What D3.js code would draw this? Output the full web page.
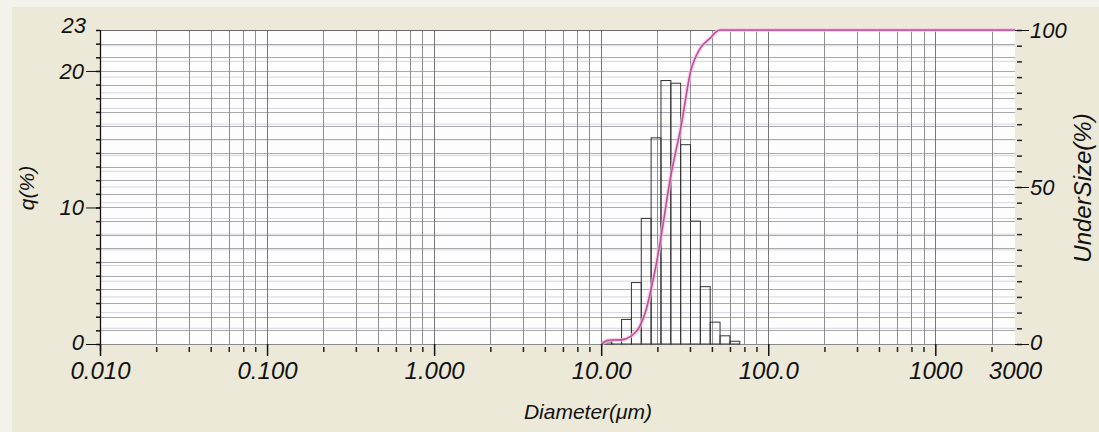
<!DOCTYPE html>
<html>
<head>
<meta charset="utf-8">
<script src="https://cdn.jsdelivr.net/npm/d3@7"></script>
<style>
  html, body { margin: 0; padding: 0; background: #ece9d8; }
  svg text { font-family: "Liberation Sans", Arial, sans-serif; font-style: italic; fill: #111; }
</style>
</head>
<body>
<svg id="chart" width="1099" height="432"></svg>
<script>
// ---- data ----
const xTickValues = [0.01, 0.1, 1, 10, 100, 1000, 3000];
const xTickLabels = ["0.010", "0.100", "1.000", "10.00", "100.0", "1000", "3000"];
const gridMantissas = [1, 2.17, 3.4, 4.6, 5.9, 7.2, 8.5];
const decades = [0.01, 0.1, 1, 10, 100, 1000];

const qMajorTicks = [0, 10, 20, 23];
const underMajorTicks = [0, 50, 100];

// histogram channels (µm) and frequency q(%)
const binLower = [10.097, 11.565, 13.246, 15.172, 17.377, 19.904, 22.797, 26.111, 29.907, 34.255, 39.234, 44.938, 51.471, 58.953];
const binUpper = [11.565, 13.246, 15.172, 17.377, 19.904, 22.797, 26.111, 29.907, 34.255, 39.234, 44.938, 51.471, 58.953, 67.523];
const qValues  = [0.15, 0.3, 1.8, 4.5, 9.2, 15.1, 19.3, 19.1, 14.6, 9.0, 4.2, 1.6, 0.6, 0.2];

// cumulative undersize curve
const cumDiam   = [10.1, 11.0, 13.2, 15.0, 17.0, 18.6, 20.0, 21.3, 22.8, 26.1, 28.0, 29.9, 34.3, 39.2, 44.9, 49.0, 51.5, 3000];
const cumValues = [0, 1.2, 1.3, 2.4, 5.5, 11, 18, 25, 34, 53.5, 61.5, 68.6, 86.8, 94.2, 97.4, 99.5, 100, 100];

// ---- layout ----
const L = 100, R = 1015, T = 30, B = 344;
const svg = d3.select("#chart");

const x = d3.scaleLog().domain([0.01, 3000]).range([L, R]);
const yq = d3.scaleLinear().domain([0, 23]).range([B, T]);
const yu = d3.scaleLinear().domain([0, 100]).range([B, T]);

// background
svg.append("rect").attr("x", 0).attr("y", 0).attr("width", 1099).attr("height", 432).attr("fill", "#f4f2ea");
svg.append("rect").attr("x", 12).attr("y", 7).attr("width", 1087).attr("height", 425).attr("fill", "#ece9d8");
svg.append("rect").attr("x", L).attr("y", T).attr("width", R - L).attr("height", B - T).attr("fill", "#fdfdfe");

const grid = svg.append("g");
// horizontal gridlines: undersize every 5%
grid.selectAll("line.gu").data(d3.range(5, 100, 5)).join("line")
  .attr("x1", L).attr("x2", R).attr("y1", d => yu(d)).attr("y2", d => yu(d))
  .attr("stroke", "#d6d6de").attr("stroke-width", 1);
// horizontal gridlines: q every 1%
grid.selectAll("line.gq").data(d3.range(1, 23)).join("line")
  .attr("x1", L).attr("x2", R).attr("y1", d => Math.round(yq(d)) + 0.5).attr("y2", d => Math.round(yq(d)) + 0.5)
  .attr("stroke", "#a8a8ad").attr("stroke-width", 1);

// vertical gridlines
const vGrid = [];
decades.forEach(d => gridMantissas.forEach(m => { const v = d * m; if (v > 0.01 && v < 3000) vGrid.push(v); }));
grid.selectAll("line.gv").data(vGrid).join("line")
  .attr("x1", d => Math.round(x(d)) + 0.5).attr("x2", d => Math.round(x(d)) + 0.5)
  .attr("y1", T).attr("y2", B)
  .attr("stroke", d => decades.includes(d) ? "#777" : "#8e8e8e").attr("stroke-width", 1);

// bottom and top border
svg.append("line").attr("x1", L).attr("x2", R).attr("y1", B + 0.5).attr("y2", B + 0.5).attr("stroke", "#8a8a8a");
svg.append("line").attr("x1", L).attr("x2", R).attr("y1", T + 0.5).attr("y2", T + 0.5).attr("stroke", "#6a6a6a");

// histogram bars
const bars = binLower.map((lo, i) => ({ lo, hi: binUpper[i], q: qValues[i] }));
svg.append("g").selectAll("rect").data(bars).join("rect")
  .attr("x", d => x(d.lo)).attr("width", d => x(d.hi) - x(d.lo))
  .attr("y", d => yq(d.q)).attr("height", d => B - yq(d.q))
  .attr("fill", "none").attr("stroke", "#333").attr("stroke-width", 1);

// cumulative curve
const cum = cumDiam.map((d, i) => ({ d, v: cumValues[i] }));
const line = d3.line().x(d => x(d.d)).y(d => yu(d.v)).curve(d3.curveMonotoneX);
svg.append("path").datum(cum).attr("d", line)
  .attr("fill", "none").attr("stroke", "#f2c4de").attr("stroke-width", 4).attr("opacity", 0.7);
svg.append("path").datum(cum).attr("d", line)
  .attr("fill", "none").attr("stroke", "#c24d9c").attr("stroke-width", 1.6);

// left axis
const leftAxis = d3.axisLeft(yq).tickValues(d3.range(0, 24)).tickSize(4).tickFormat("");
const gl = svg.append("g").attr("transform", `translate(${L},0)`).call(leftAxis);
gl.select(".domain").remove();
gl.selectAll(".tick line").attr("stroke", "#111").attr("stroke-width", 1.5);
svg.append("line").attr("x1", L + 0.5).attr("x2", L + 0.5).attr("y1", T).attr("y2", B + 7).attr("stroke", "#111").attr("stroke-width", 1.3);
const leftMajor = d3.axisLeft(yq).tickValues(qMajorTicks).tickSize(14).tickPadding(2).tickFormat(d3.format("d"));
const glm = svg.append("g").attr("transform", `translate(${L},0)`).call(leftMajor);
glm.select(".domain").remove();
glm.selectAll(".tick line").attr("stroke", "#111").attr("stroke-width", d => d === 23 ? 0 : 1);
glm.selectAll(".tick text").attr("font-size", 22).style("font-family", null).attr("fill", "#111");
glm.selectAll(".tick").filter(d => d === 23).select("text").attr("x", -14).attr("dy", "0.1em");
glm.selectAll(".tick").filter(d => d === 0).select("text").attr("dy", "0.25em");

// right axis
const rightAxis = d3.axisRight(yu).tickValues(d3.range(0, 101, 5)).tickSize(5).tickFormat("");
const gr = svg.append("g").attr("transform", `translate(${R + 2},0)`).call(rightAxis);
gr.select(".domain").remove();
gr.selectAll(".tick line").attr("stroke", "#222").attr("stroke-width", 1.5);
const rightMajor = d3.axisRight(yu).tickValues(underMajorTicks).tickSize(14).tickPadding(1).tickFormat(d3.format("d"));
const grm = svg.append("g").attr("transform", `translate(${R},0)`).call(rightMajor);
grm.select(".domain").remove();
grm.selectAll(".tick line").attr("stroke", "#111").attr("stroke-width", 1);
grm.selectAll(".tick text").attr("font-size", 22).style("font-family", null).attr("fill", "#111");
grm.selectAll(".tick").filter(d => d === 0).select("text").attr("dy", "0.25em");

// bottom axis: minor ticks at grid positions, major at decades
const bottomMinor = d3.axisBottom(x).tickValues(vGrid.filter(v => !decades.includes(v))).tickSize(5).tickFormat("");
const gbm = svg.append("g").attr("transform", `translate(0,${B + 3})`).call(bottomMinor);
gbm.select(".domain").remove();
gbm.selectAll(".tick line").attr("stroke", "#222").attr("stroke-width", 1.5);
const bottomMajor = d3.axisBottom(x).tickValues(xTickValues).tickSize(12).tickPadding(3)
  .tickFormat((d, i) => xTickLabels[i]);
const gb = svg.append("g").attr("transform", `translate(0,${B})`).call(bottomMajor);
gb.select(".domain").remove();
gb.selectAll(".tick line").attr("stroke", "#111").attr("stroke-width", d => d === 3000 ? 0 : 1.5);
gb.selectAll(".tick text").attr("font-size", 24).style("font-family", null).attr("fill", "#111")
  .attr("y", 18).attr("dy", "0.71em");

// axis titles
svg.append("text").attr("transform", "translate(34,188) rotate(-90)").attr("text-anchor", "middle")
  .attr("font-size", 21).text("q(%)");
svg.append("text").attr("transform", "translate(1091,188) rotate(-90)").attr("text-anchor", "middle")
  .attr("font-size", 24).text("UnderSize(%)");
svg.append("text").attr("x", 588).attr("y", 419).attr("text-anchor", "middle")
  .attr("font-size", 21).text("Diameter(μm)");
</script>
</body>
</html>
